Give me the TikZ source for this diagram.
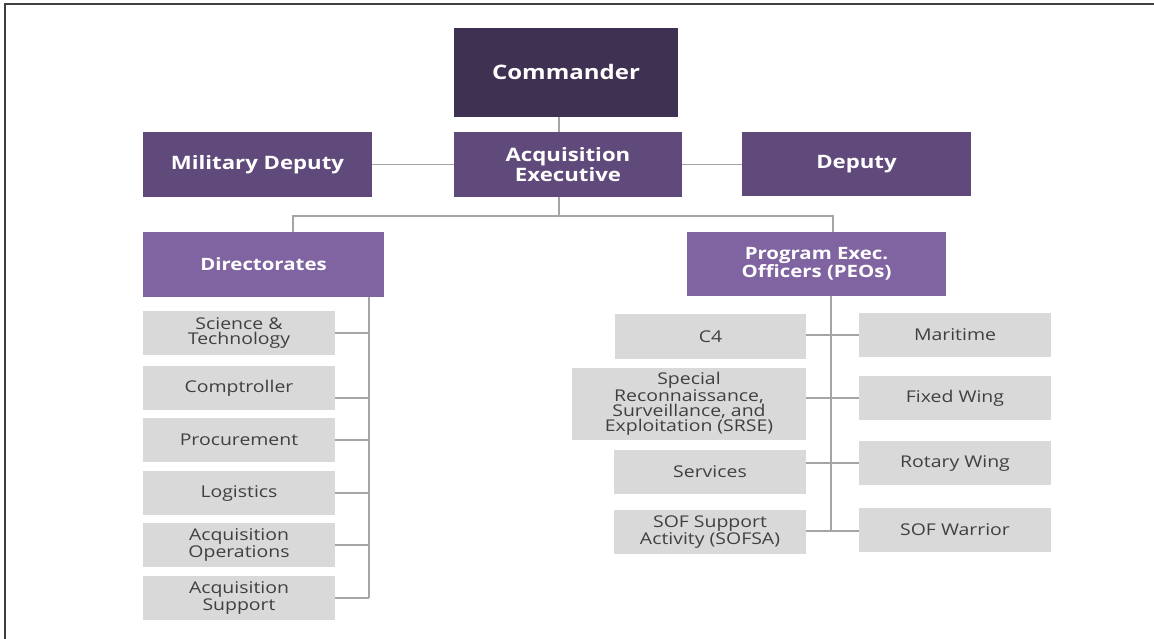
\documentclass[tikz,border=0pt]{standalone}
\usepackage{fontspec}
\setmainfont[FakeStretch=1.2]{Open Sans}
\usetikzlibrary{calc}
\definecolor{pdark}{HTML}{3F3151}
\definecolor{pmid}{HTML}{604A7B}
\definecolor{plight}{HTML}{8064A2}
\definecolor{gfill}{HTML}{D9D9D9}
\definecolor{gtext}{HTML}{404040}
\definecolor{lcol}{HTML}{A5A5A5}
\definecolor{bcol}{HTML}{404040}
\tikzset{
  box/.style={rectangle, inner sep=0pt, outer sep=0pt, align=center},
  topbox/.style={box, fill=pdark, text=white, font=\fontsize{20}{22}\selectfont\bfseries},
  midbox/.style={box, fill=pmid, text=white, font=\fontsize{18.5}{18}\selectfont\bfseries},
  subbox/.style={box, fill=plight, text=white, font=\fontsize{17}{17}\selectfont\bfseries},
  graybox/.style={box, fill=gfill, text=gtext, font=\fontsize{16.2}{15}\selectfont},
  conn/.style={draw=lcol, line width=1.6pt},
  frame/.style={draw=bcol, line width=2pt}
}
\begin{document}
\begin{tikzpicture}[x=1pt,y=-1pt]
\useasboundingbox (0,0) rectangle (1154,639);
\draw[frame] (5,639) -- (5,4) -- (1154,4);
% top level
\node[topbox, minimum width=224pt, minimum height=89pt] (cmd) at (566,72.5) {Commander};
\node[midbox, minimum width=228pt, minimum height=65pt] (ae) at (568,164.5) {Acquisition\\Executive};
\node[midbox, minimum width=229pt, minimum height=65pt] (md) at (257.5,164.5) {Military Deputy};
\node[midbox, minimum width=229pt, minimum height=64pt] (dep) at (856.5,164) {Deputy};
\node[subbox, minimum width=241pt, minimum height=65pt] (dir) at (263.5,264.5) {Directorates};
\node[subbox, minimum width=259pt, minimum height=64pt] (peo) at (816.5,264) {Program Exec.\\Officers (PEOs)};
% directorates
\foreach \n/\y/\t in {sci/333/{Science \&\\Technology}, comp/388/Comptroller, proc/440/Procurement, log/493/Logistics, aops/545/{Acquisition\\Operations}, asup/598/{Acquisition\\Support}}{
  \node[graybox, minimum width=192pt, minimum height=44pt] (\n) at (239,\y) {\t};
}
% PEO left column
\node[graybox, minimum width=191pt, minimum height=45pt] (c4) at (710.5,336.5) {C4};
\node[graybox, minimum width=234pt, minimum height=72pt] (srse) at (689,404) {Special\\Reconnaissance,\\Surveillance, and\\Exploitation (SRSE)};
\node[graybox, minimum width=192pt, minimum height=44pt] (serv) at (710,472) {Services};
\node[graybox, minimum width=192pt, minimum height=44pt] (sofsa) at (710,532) {SOF Support\\Activity (SOFSA)};
% PEO right column
\node[graybox, minimum width=192pt, minimum height=44pt] (mar) at (955,335) {Maritime};
\node[graybox, minimum width=192pt, minimum height=44pt] (fw) at (955,398) {Fixed Wing};
\node[graybox, minimum width=192pt, minimum height=44pt] (rw) at (955,463) {Rotary Wing};
\node[graybox, minimum width=192pt, minimum height=44pt] (sofw) at (955,530) {SOF Warrior};
% connectors top
\coordinate (bus) at (559,216);
\coordinate (busL) at (293,216);
\coordinate (busR) at (833,216);
\draw[conn] (cmd.south -| 559,0) -- (ae.north -| 559,0);
\draw[conn] (md.east) -- (ae.west);
\draw[conn] (ae.east) -- (dep.west |- ae.east);
\draw[conn] (ae.south -| bus) -- (bus);
\draw[conn] (dir.north -| busL) -- (busL) -- (busR) -- (peo.north -| busR);
% left spine
\coordinate (lsp) at (369,598);
\draw[conn] (dir.south -| lsp) -- (lsp);
\foreach \n in {sci,proc,log,aops,asup}{
  \draw[conn] (\n.east) -- (\n.east -| lsp);
}
\draw[conn] ([yshift=-10pt]comp.east) -- ([yshift=-10pt]comp.east -| lsp);
% right spine
\coordinate (rsp) at (831,531);
\draw[conn] (peo.south -| rsp) -- (rsp);
\draw[conn] (c4.east |- mar.west) -- (mar.west);
\draw[conn] (srse.east |- fw.west) -- (fw.west);
\draw[conn] (serv.east |- rw.west) -- (rw.west);
\draw[conn] (sofsa.east |- rsp) -- (sofw.west |- rsp);
\end{tikzpicture}
\end{document}
